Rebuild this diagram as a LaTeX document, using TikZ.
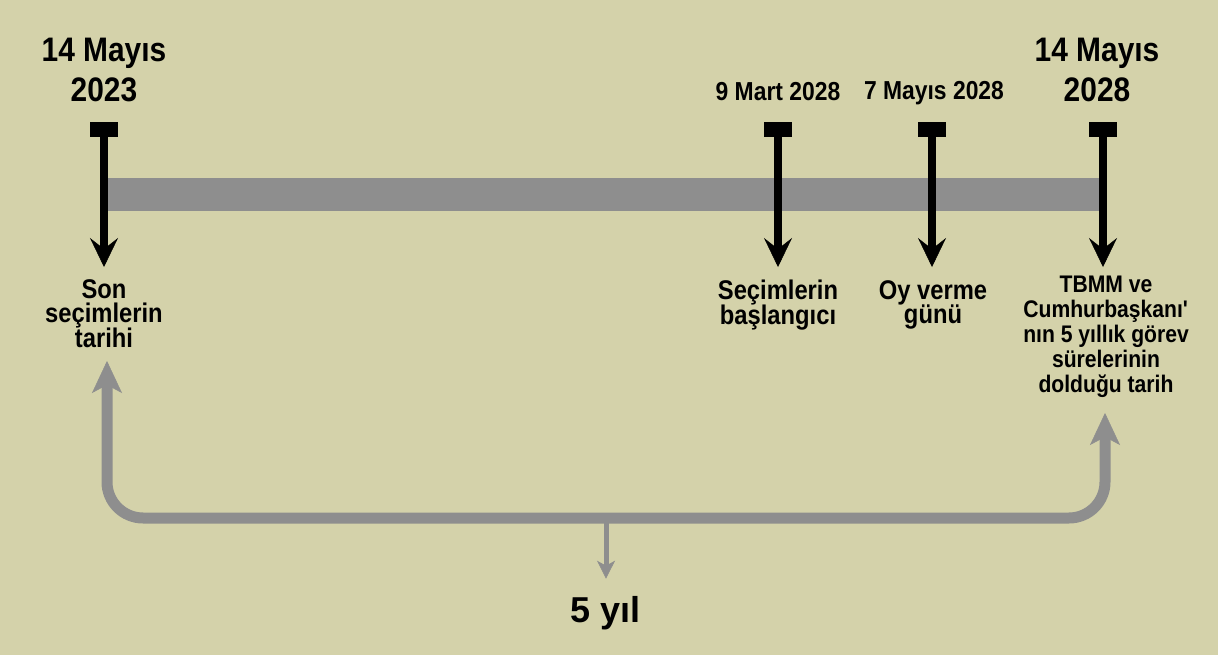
\documentclass[tikz,border=0pt]{standalone}
\usepackage{fontspec}
\setmainfont{Liberation Sans}
\newfontfamily\labelfont[FakeStretch=0.88]{Liberation Sans}
\usetikzlibrary{arrows.meta,positioning}
\definecolor{paper}{RGB}{212,210,170}
\definecolor{bargray}{RGB}{142,142,142}
\setlength{\lineskiplimit}{-20pt}
\tikzset{markercap/.style={fill=black,rectangle,inner sep=0,minimum width=28pt,minimum height=15pt},
    markerline/.style={line width=8pt,-{Stealth[length=29pt,width=28pt,inset=11pt,line width=0.5pt]}},
    spanline/.style={bargray,line width=11pt,rounded corners=36pt,
        {Stealth[length=32pt,width=30pt,inset=8pt,line width=0.5pt]}-{Stealth[length=32pt,width=30pt,inset=8pt,line width=0.5pt]}},
    spanpointer/.style={bargray,line width=5pt,-{Stealth[length=18pt,width=18pt,inset=5pt,line width=0.5pt]}},
    timebar/.style={fill=bargray},
    datelarge/.style={align=center,inner sep=0,anchor=north,font=\labelfont\fontsize{34}{40}\selectfont\bfseries},
    datesmall/.style={align=center,inner sep=0,anchor=north,font=\labelfont\fontsize{26}{28}\selectfont\bfseries},
    notetext/.style={align=center,inner sep=0,anchor=north,font=\labelfont\fontsize{27}{24.5}\selectfont\bfseries},
    endtext/.style={align=center,inner sep=0,anchor=north,font=\labelfont\fontsize{24}{25}\selectfont\bfseries}
}
\newcommand{\datemarker}[2]
{
% args: (name, x of marker)
    \node (cap#1) at (#2,129.5) [markercap] {};
    \coordinate (tip#1) at (#2,267);
    \draw [markerline] (cap#1.south) -- (tip#1);
}

\begin{document}
\begin{tikzpicture}[x=1pt,y=-1pt]

\fill [paper] (0,0) rectangle (1218,655);
\useasboundingbox (0,0) rectangle (1218,655);

% time line
\fill [timebar] (104,178) rectangle (1103,211);

\foreach \name/\x in {start/104,begin/778,vote/932,end/1103}
{
    \datemarker{\name}{\x}
}

% dates above
\node (startdate) [datelarge] at (104,38) {14 Mayıs\\2023};
\node (enddate) [datelarge] at (1097,38) {14 Mayıs\\2028};
\node (begindate) [datesmall] at (778,82) {9 Mart 2028};
\node (votedate) [datesmall] at (934,81) {7 Mayıs 2028};

% notes below
\node (startnote) [notetext] at (104,279) {Son\\seçimlerin\\tarihi};
\node (beginnote) [notetext] at (778,280) {Seçimlerin\\başlangıcı};
\node (votenote) [notetext] at (933,280) {Oy verme\\günü};
\node (endnote) [endtext] at (1106,276) {TBMM ve\\Cumhurbaşkanı\textquotesingle\\nın 5 yıllık görev\\sürelerinin\\dolduğu tarih};

% five year span
\coordinate (spanleft) at (107,361);
\coordinate (spanright) at (1105,413);
\coordinate (spanmid) at (606,518);
\node (fiveyears) [inner sep=0,anchor=base,font=\fontsize{36}{40}\selectfont\bfseries] at (606,622) {5 yıl};

\draw [spanline] (spanleft) |- (spanmid) -| (spanright);
\draw [spanpointer,shorten >=17pt] (spanmid) -- (fiveyears);

\end{tikzpicture}
\end{document}
